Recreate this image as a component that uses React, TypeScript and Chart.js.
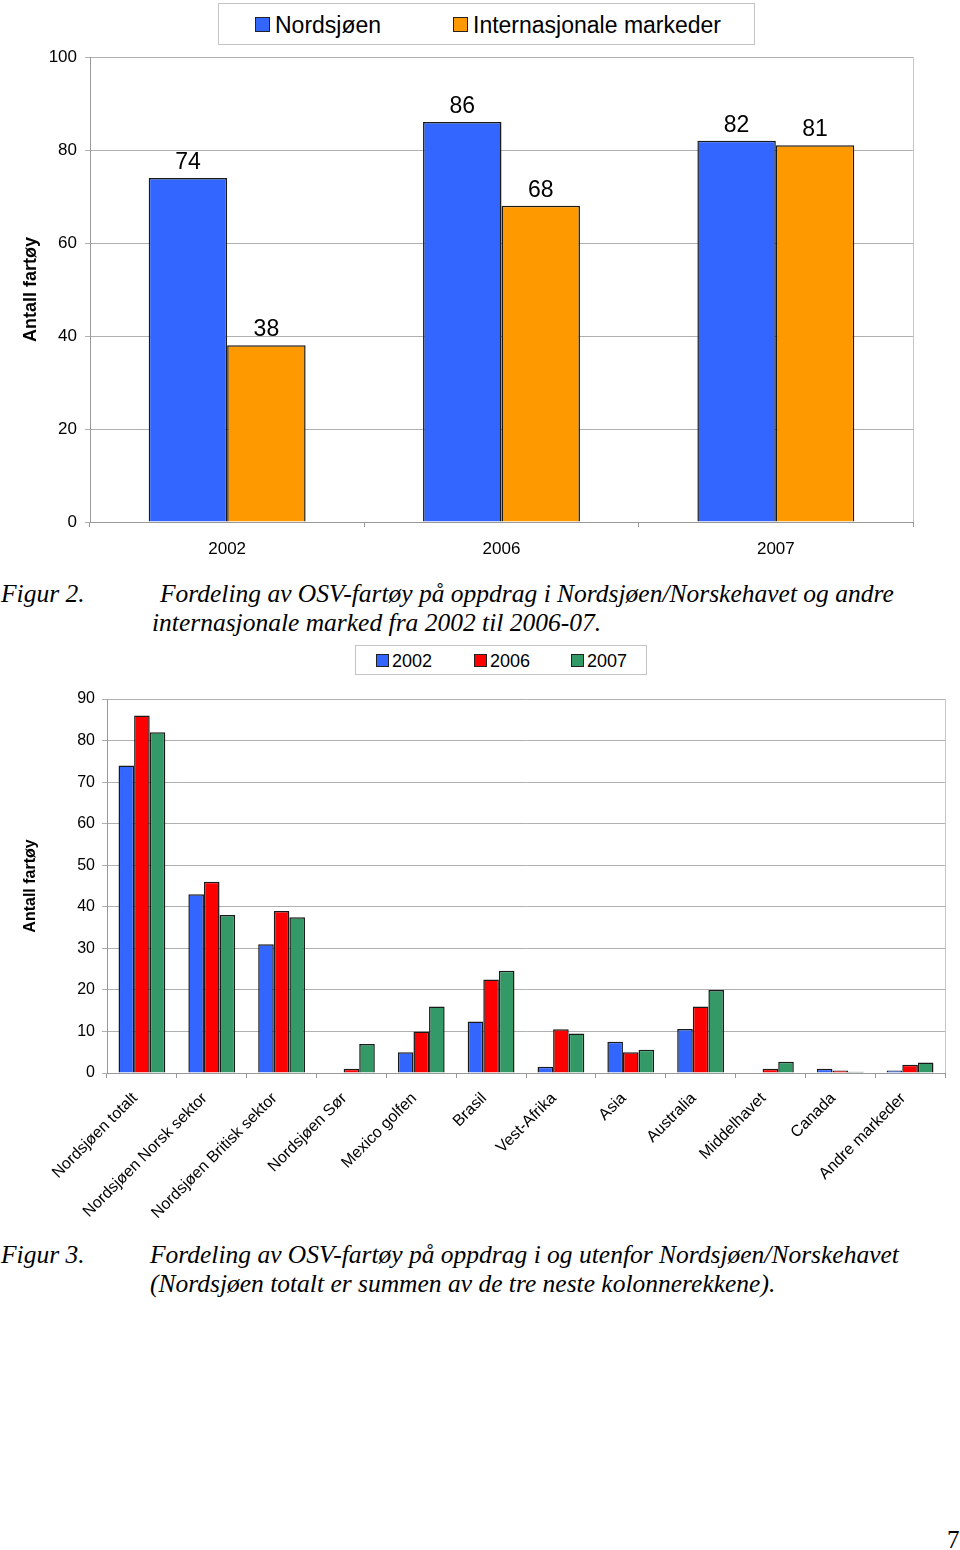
import React, { useEffect, useRef } from "react";
import { Chart, registerables } from "chart.js";

Chart.register(...registerables);

// ---------- Data: Figur 2 ----------
const years1 = ["2002", "2006", "2007"];
const nordsjoen = [74, 86, 82];
const internasjonale = [38, 68, 81];

// ---------- Data: Figur 3 ----------
const regions = [
  "Nordsjøen totalt",
  "Nordsjøen Norsk sektor",
  "Nordsjøen Britisk sektor",
  "Nordsjøen Sør",
  "Mexico golfen",
  "Brasil",
  "Vest-Afrika",
  "Asia",
  "Australia",
  "Middelhavet",
  "Canada",
  "Andre markeder",
];
const v2002 = [74, 43, 31, 0, 5, 12.4, 1.5, 7.5, 10.6, 0, 1, 0.6];
const v2006 = [86, 46, 39, 1, 10, 22.5, 10.5, 5, 16, 1, 0.6, 2];
const v2007 = [82, 38, 37.5, 7, 16, 24.6, 9.5, 5.6, 20, 2.7, 0.3, 2.5];

const ticks1 = { min: 0, max: 100, step: 20 };
const ticks2 = { min: 0, max: 90, step: 10 };

const BLUE = "#3366FF";
const ORANGE = "#FF9900";
const RED = "#FF0000";
const GREEN = "#339966";
const EDGE = "#1a1a1a";
const SANS = "'Liberation Sans', Arial, Helvetica, sans-serif";
const SERIF = "'Liberation Serif', 'Times New Roman', Times, serif";

const rightBorder = {
  id: "rightBorder",
  afterDraw(chart: any) {
    const { ctx, chartArea } = chart;
    ctx.save();
    ctx.strokeStyle = "#c8c8c8";
    ctx.lineWidth = 1;
    ctx.beginPath();
    ctx.moveTo(Math.round(chartArea.right) + 0.5, chartArea.top);
    ctx.lineTo(Math.round(chartArea.right) + 0.5, chartArea.bottom);
    ctx.stroke();
    ctx.restore();
  },
};

const valueLabels = {
  id: "valueLabels",
  afterDatasetsDraw(chart: any) {
    const { ctx } = chart;
    ctx.save();
    ctx.fillStyle = "#000";
    ctx.font = `23px ${SANS}`;
    ctx.textAlign = "center";
    ctx.textBaseline = "alphabetic";
    chart.data.datasets.forEach((ds: any, i: number) => {
      const meta = chart.getDatasetMeta(i);
      meta.data.forEach((bar: any, j: number) => {
        ctx.fillText(String(ds.data[j]), bar.x, bar.y - 9);
      });
    });
    ctx.restore();
  },
};

function Chart1() {
  const ref = useRef<HTMLCanvasElement | null>(null);
  useEffect(() => {
    if (!ref.current) return;
    const chart = new Chart(ref.current, {
      type: "bar",
      data: {
        labels: years1,
        datasets: [
          {
            label: "Nordsjøen",
            data: nordsjoen,
            backgroundColor: BLUE,
            borderColor: EDGE,
            borderWidth: 1.5,
          },
          {
            label: "Internasjonale markeder",
            data: internasjonale,
            backgroundColor: ORANGE,
            borderColor: EDGE,
            borderWidth: 1.5,
          },
        ],
      },
      options: {
        animation: false,
        responsive: false,
        maintainAspectRatio: false,
        datasets: { bar: { categoryPercentage: 0.572, barPercentage: 1 } },
        layout: { padding: { top: 57, right: 47, left: 0, bottom: 0 } },
        plugins: { legend: { display: false }, tooltip: { enabled: false } },
        scales: {
          x: {
            grid: {
              display: true,
              drawOnChartArea: false,
              drawTicks: true,
              tickLength: 5,
              color: "#999",
              offset: true,
            },
            border: { display: true, color: "#999", width: 1 },
            ticks: {
              color: "#000",
              font: { family: SANS, size: 17 },
              padding: 12,
              maxRotation: 0,
              minRotation: 0,
            },
            afterFit: (s: any) => {
              s.height = 48;
            },
          },
          y: {
            min: ticks1.min,
            max: ticks1.max,
            ticks: {
              stepSize: ticks1.step,
              color: "#000",
              font: { family: SANS, size: 17 },
              padding: 8,
            },
            grid: { color: "#b0b0b0", tickLength: 5 },
            border: { color: "#999" },
            title: {
              display: true,
              text: "Antall fartøy",
              color: "#000",
              font: { family: SANS, size: 18, weight: "bold" },
              padding: { top: 20, bottom: 0 },
            },
            afterFit: (s: any) => {
              s.width = 90;
            },
          },
        },
      },
      plugins: [rightBorder, valueLabels],
    } as any);
    return () => chart.destroy();
  }, []);
  return (
    <canvas
      ref={ref}
      width={960}
      height={570}
      style={{ position: "absolute", left: 0, top: 0, width: 960, height: 570 }}
    />
  );
}

function Chart2() {
  const ref = useRef<HTMLCanvasElement | null>(null);
  useEffect(() => {
    if (!ref.current) return;
    const mk = (label: string, data: number[], color: string) => ({
      label,
      data,
      backgroundColor: color,
      borderColor: EDGE,
      borderWidth: 1.5,
    });
    const chart = new Chart(ref.current, {
      type: "bar",
      data: {
        labels: regions,
        datasets: [
          mk("2002", v2002, BLUE),
          mk("2006", v2006, RED),
          mk("2007", v2007, GREEN),
        ],
      },
      options: {
        animation: false,
        responsive: false,
        maintainAspectRatio: false,
        datasets: { bar: { categoryPercentage: 0.67, barPercentage: 1 } },
        layout: { padding: { top: 19, right: 15, left: 0, bottom: 0 } },
        plugins: { legend: { display: false }, tooltip: { enabled: false } },
        scales: {
          x: {
            grid: {
              display: true,
              drawOnChartArea: false,
              drawTicks: true,
              tickLength: 5,
              color: "#999",
              offset: true,
            },
            border: { display: true, color: "#999", width: 1 },
            ticks: {
              color: "#000",
              font: { family: SANS, size: 16 },
              padding: 11,
              labelOffset: -7,
              maxRotation: 45,
              minRotation: 45,
              autoSkip: false,
            },
            afterFit: (s: any) => {
              s.height = 167;
            },
          },
          y: {
            min: ticks2.min,
            max: ticks2.max,
            ticks: {
              stepSize: ticks2.step,
              color: "#000",
              font: { family: SANS, size: 16 },
              padding: 7,
            },
            grid: { color: "#b0b0b0", tickLength: 5 },
            border: { color: "#999" },
            title: {
              display: true,
              text: "Antall fartøy",
              color: "#000",
              font: { family: SANS, size: 16, weight: "bold" },
              padding: { top: 21, bottom: 0 },
            },
            afterFit: (s: any) => {
              s.width = 107;
            },
          },
        },
      },
      plugins: [rightBorder],
    } as any);
    return () => chart.destroy();
  }, []);
  return (
    <canvas
      ref={ref}
      width={960}
      height={560}
      style={{ position: "absolute", left: 0, top: 680, width: 960, height: 560 }}
    />
  );
}

function SansText(props: { x: number; base: number; size: number; text: string; bold?: boolean }) {
  const { x, base, size, text, bold } = props;
  return (
    <div
      style={{
        position: "absolute",
        left: x,
        top: base - 0.8465 * size,
        fontFamily: SANS,
        fontSize: size,
        lineHeight: `${size}px`,
        fontWeight: bold ? "bold" : "normal",
        whiteSpace: "pre",
        color: "#000",
      }}
    >
      {text}
    </div>
  );
}

function SerifText(props: { x: number; base: number; size: number; text: string; italic?: boolean }) {
  const { x, base, size, text, italic } = props;
  return (
    <div
      style={{
        position: "absolute",
        left: x,
        top: base - 0.8375 * size,
        fontFamily: SERIF,
        fontSize: size,
        lineHeight: `${size}px`,
        fontStyle: italic ? "italic" : "normal",
        whiteSpace: "pre",
        color: "#000",
      }}
    >
      {text}
    </div>
  );
}

function Swatch(props: { x: number; y: number; s: number; color: string }) {
  return (
    <div
      style={{
        position: "absolute",
        left: props.x,
        top: props.y,
        width: props.s,
        height: props.s,
        boxSizing: "border-box",
        border: "1px solid #222",
        background: props.color,
      }}
    />
  );
}

function Box(props: { x: number; y: number; w: number; h: number }) {
  return (
    <div
      style={{
        position: "absolute",
        left: props.x,
        top: props.y,
        width: props.w,
        height: props.h,
        boxSizing: "border-box",
        border: "1px solid #c4c4c4",
        background: "#fff",
      }}
    />
  );
}

const CAP = 25.5;

export default function App() {
  return (
    <div
      style={{
        position: "absolute",
        left: 0,
        top: 0,
        width: 960,
        height: 1550,
        background: "#fff",
        overflow: "hidden",
      }}
    >
      <Chart1 />
      {/* Legend Figur 2 */}
      <Box x={218} y={3} w={537} h={42} />
      <Swatch x={255} y={17} s={15} color={BLUE} />
      <SansText x={275} base={33} size={23} text="Nordsjøen" />
      <Swatch x={453} y={17} s={15} color={ORANGE} />
      <SansText x={473} base={33} size={23} text="Internasjonale markeder" />

      {/* Caption Figur 2 */}
      <SerifText x={1} base={602} size={CAP} italic text="Figur 2." />
      <SerifText
        x={160}
        base={602}
        size={CAP}
        italic
        text="Fordeling av OSV-fartøy på oppdrag i Nordsjøen/Norskehavet og andre"
      />
      <SerifText
        x={152}
        base={631}
        size={CAP}
        italic
        text="internasjonale marked fra 2002 til 2006-07."
      />

      {/* Legend Figur 3 */}
      <Box x={355} y={645} w={292} h={30} />
      <Swatch x={376} y={654} s={13} color={BLUE} />
      <SansText x={392} base={667} size={18} text="2002" />
      <Swatch x={474} y={654} s={13} color={RED} />
      <SansText x={490} base={667} size={18} text="2006" />
      <Swatch x={571} y={654} s={13} color={GREEN} />
      <SansText x={587} base={667} size={18} text="2007" />

      <Chart2 />

      {/* Caption Figur 3 */}
      <SerifText x={1} base={1263} size={CAP} italic text="Figur 3." />
      <SerifText
        x={150}
        base={1263}
        size={CAP}
        italic
        text="Fordeling av OSV-fartøy på oppdrag i og utenfor Nordsjøen/Norskehavet"
      />
      <SerifText
        x={150}
        base={1292}
        size={CAP}
        italic
        text="(Nordsjøen totalt er summen av de tre neste kolonnerekkene)."
      />

      {/* Page number */}
      <SerifText x={947} base={1548} size={25} text="7" />
    </div>
  );
}
